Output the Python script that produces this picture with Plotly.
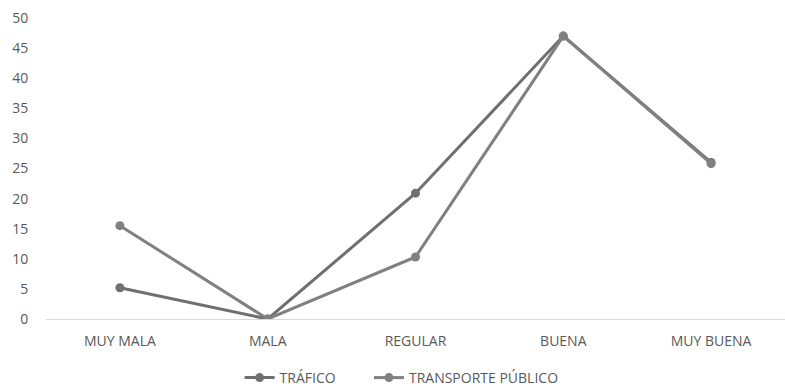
import plotly.graph_objects as go

categories = ["MUY MALA", "MALA", "REGULAR", "BUENA", "MUY BUENA"]
trafico = [5.2, 0, 20.9, 47, 26]
transporte = [15.5, 0, 10.3, 47, 25.8]
series_names = ["TRÁFICO", "TRANSPORTE PÚBLICO"]
y_ticks = [0, 5, 10, 15, 20, 25, 30, 35, 40, 45, 50]

fig = go.Figure()
fig.add_trace(go.Scatter(x=categories, y=trafico, name=series_names[0], mode="lines+markers",
                         line=dict(color="#6f6f6f", width=3), marker=dict(size=9, color="#6f6f6f"),
                         legend="legend"))
fig.add_trace(go.Scatter(x=categories, y=transporte, name=series_names[1], mode="lines+markers",
                         line=dict(color="#808080", width=3), marker=dict(size=9, color="#808080"),
                         legend="legend2"))

leg_common = dict(orientation="h", xanchor="left", y=-0.196, yanchor="middle",
                  font=dict(size=14, color="#595959"), bgcolor="rgba(0,0,0,0)")
fig.update_layout(
    width=785, height=386,
    margin=dict(l=46, r=0, t=18, b=67, autoexpand=False),
    plot_bgcolor="white", paper_bgcolor="white",
    font=dict(family="Open Sans, Liberation Sans, sans-serif", size=14, color="#595959"),
    showlegend=True,
    legend=dict(x=0.262, **leg_common),
    legend2=dict(x=0.437, **leg_common),
    xaxis=dict(range=[-0.5, 4.5], showgrid=False, zeroline=False, showline=False, ticks="outside",
               ticklen=9, tickcolor="rgba(0,0,0,0)", tickfont=dict(size=14, color="#595959")),
    yaxis=dict(range=[0, 50], tickvals=y_ticks, showgrid=False, zeroline=True,
               zerolinecolor="#d9d9d9", zerolinewidth=1, ticks="outside", ticklen=14,
               tickcolor="rgba(0,0,0,0)", tickfont=dict(size=14, color="#595959")),
)
fig.write_html("out.html")
